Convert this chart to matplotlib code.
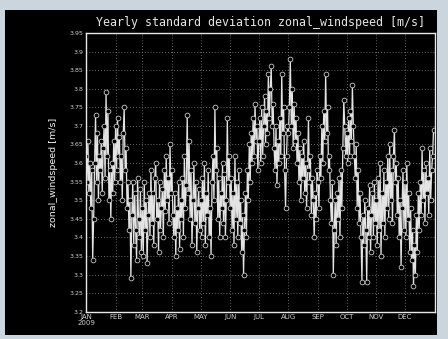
import numpy as np
import pandas as pd
import matplotlib
matplotlib.use('Agg')
import matplotlib.pyplot as plt
from matplotlib.patches import Rectangle

# daily std dev of zonal windspeed [m/s], 2009, one list per month
jan = [3.62, 3.55, 3.66, 3.52, 3.60, 3.48, 3.58, 3.34, 3.45, 3.60, 3.73, 3.55, 3.68, 3.50, 3.62, 3.58,
       3.66, 3.52, 3.64, 3.70, 3.56, 3.79, 3.62, 3.74, 3.50, 3.58, 3.45, 3.60, 3.52, 3.66, 3.55]
feb = [3.70, 3.58, 3.72, 3.62, 3.67, 3.55, 3.62, 3.50, 3.68, 3.75, 3.58, 3.64, 3.48, 3.55, 3.42, 3.50,
       3.29, 3.46, 3.55, 3.38, 3.52, 3.42, 3.34, 3.56, 3.45, 3.40, 3.53, 3.36]
mar = [3.48, 3.35, 3.55, 3.42, 3.50, 3.33, 3.46, 3.52, 3.40, 3.58, 3.44, 3.52, 3.38, 3.56, 3.60, 3.45,
       3.50, 3.36, 3.55, 3.42, 3.48, 3.53, 3.40, 3.58, 3.47, 3.62, 3.50, 3.56, 3.44, 3.65, 3.52]
apr = [3.58, 3.46, 3.40, 3.52, 3.35, 3.48, 3.42, 3.55, 3.37, 3.50, 3.45, 3.56, 3.40, 3.62, 3.48, 3.54,
       3.73, 3.52, 3.66, 3.45, 3.58, 3.38, 3.50, 3.60, 3.44, 3.55, 3.36, 3.48, 3.53, 3.42]
may = [3.50, 3.40, 3.56, 3.44, 3.60, 3.38, 3.52, 3.46, 3.58, 3.40, 3.48, 3.35, 3.55, 3.62, 3.50, 3.75,
       3.58, 3.64, 3.45, 3.56, 3.40, 3.52, 3.48, 3.60, 3.44, 3.57, 3.40, 3.50, 3.72, 3.55, 3.62]
jun = [3.48, 3.56, 3.42, 3.52, 3.38, 3.62, 3.45, 3.55, 3.40, 3.58, 3.44, 3.50, 3.36, 3.46, 3.30, 3.42,
       3.52, 3.40, 3.58, 3.50, 3.65, 3.55, 3.68, 3.60, 3.72, 3.62, 3.76, 3.66, 3.70, 3.58]
jul = [3.66, 3.72, 3.60, 3.75, 3.62, 3.70, 3.78, 3.65, 3.74, 3.68, 3.84, 3.72, 3.80, 3.86, 3.70, 3.76,
       3.64, 3.58, 3.70, 3.54, 3.66, 3.60, 3.72, 3.62, 3.84, 3.68, 3.75, 3.58, 3.48, 3.62, 3.70]
aug = [3.68, 3.75, 3.88, 3.70, 3.80, 3.64, 3.76, 3.66, 3.72, 3.60, 3.68, 3.55, 3.64, 3.50, 3.62, 3.56,
       3.66, 3.52, 3.60, 3.48, 3.58, 3.72, 3.55, 3.62, 3.46, 3.56, 3.50, 3.40, 3.52, 3.45, 3.58]
sep = [3.55, 3.48, 3.62, 3.56, 3.70, 3.60, 3.74, 3.66, 3.84, 3.68, 3.75, 3.58, 3.62, 3.50, 3.44, 3.55,
       3.30, 3.42, 3.50, 3.38, 3.52, 3.45, 3.56, 3.40, 3.58, 3.48, 3.64, 3.77, 3.70, 3.62]
oct_ = [3.68, 3.60, 3.72, 3.62, 3.74, 3.66, 3.81, 3.70, 3.62, 3.56, 3.65, 3.48, 3.58, 3.44, 3.52, 3.40,
        3.28, 3.46, 3.38, 3.50, 3.42, 3.28, 3.48, 3.40, 3.54, 3.36, 3.46, 3.52, 3.40, 3.55, 3.44]
nov = [3.50, 3.38, 3.56, 3.42, 3.60, 3.35, 3.52, 3.44, 3.58, 3.40, 3.55, 3.48, 3.62, 3.45, 3.65, 3.50,
       3.58, 3.44, 3.62, 3.69, 3.55, 3.60, 3.46, 3.56, 3.40, 3.50, 3.32, 3.48, 3.58, 3.42]
dec = [3.55, 3.40, 3.60, 3.45, 3.52, 3.36, 3.48, 3.34, 3.42, 3.27, 3.38, 3.30, 3.46, 3.36, 3.52, 3.42,
       3.55, 3.46, 3.64, 3.50, 3.58, 3.44, 3.60, 3.52, 3.56, 3.46, 3.64, 3.50, 3.58, 3.62, 3.69]

month_labels = ['JAN\n2009', 'FEB', 'MAR', 'APR', 'MAY', 'JUN',
                'JUL', 'AUG', 'SEP', 'OCT', 'NOV', 'DEC']
yticks = [3.2, 3.25, 3.3, 3.35, 3.4, 3.45, 3.5, 3.55, 3.6, 3.65, 3.7, 3.75, 3.8, 3.85, 3.9, 3.95]

values = jan + feb + mar + apr + may + jun + jul + aug + sep + oct_ + nov + dec
dates = pd.date_range('2009-01-01', periods=len(values), freq='D')
month_starts = pd.date_range('2009-01-01', periods=12, freq='MS')

W, H = 448, 339
fig = plt.figure(figsize=(W / 100, H / 100), dpi=100, facecolor='#cbd5dd')
# black panel inside the light frame
fig.patches.append(Rectangle((5 / W, 4 / H), 432 / W, 325 / H, transform=fig.transFigure,
                             facecolor='black', edgecolor='none', zorder=-10))

ax = fig.add_axes([86 / W, 1 - 311.7 / H, 348.5 / W, 278.7 / H])
ax.set_facecolor('black')

ax.plot(dates, values, color='#e4e4e4', lw=0.9, marker='o', ms=3.4,
        mfc='black', mec='#c8c8c8', mew=0.6)

ax.set_xlim(pd.Timestamp('2009-01-01'), pd.Timestamp('2010-01-01'))
ax.set_ylim(3.2, 3.95)
ax.set_xticks(month_starts)
ax.set_xticklabels(month_labels)
ax.set_yticks(yticks)
ax.set_yticklabels(['%g' % t for t in yticks])

ax.grid(True, color='#8a8a8a', ls=(0, (1, 2.5)), lw=0.6)
ax.set_axisbelow(True)
for s in ax.spines.values():
    s.set_color('#e8e8e8')
    s.set_linewidth(1.0)
ax.tick_params(length=0, pad=2, colors='#d0d0d0', labelsize=4.5)
ax.tick_params(axis='x', pad=2, labelsize=5)
for lab in ax.get_xticklabels():
    lab.set_linespacing(0.9)

ax.set_title('Yearly standard deviation zonal_windspeed [m/s]', color='#e6e6e6',
             family='DejaVu Sans Mono', fontsize=8.4, pad=5)
ax.set_ylabel('zonal_windspeed [m/s]', color='#f0f0f0', fontsize=6.8, labelpad=8)

fig.savefig('out.png', dpi=100, facecolor=fig.get_facecolor())
